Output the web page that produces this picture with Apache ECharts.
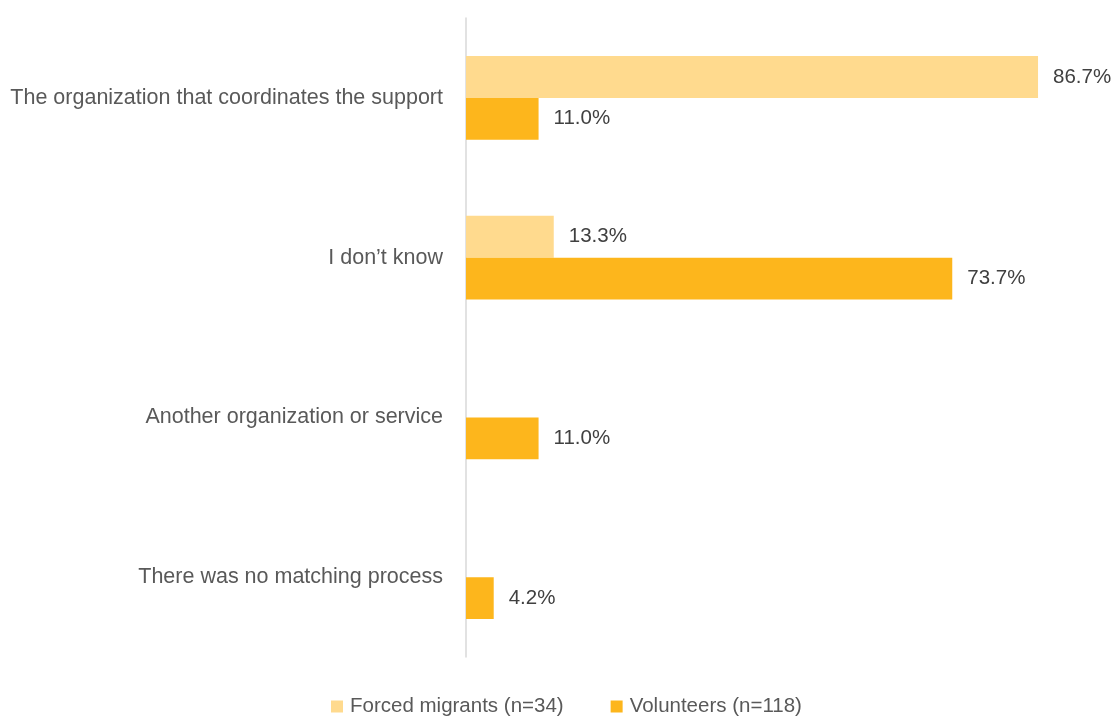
<!DOCTYPE html>
<html>
<head>
<meta charset="utf-8">
<script src="https://cdn.jsdelivr.net/npm/echarts@6/dist/echarts.min.js"></script>
<style>html,body{margin:0;padding:0;background:#fff;}#c{width:1117px;height:718px;}</style>
</head>
<body>
<div id="c"></div>
<script>
var categories = ["The organization that coordinates the support", "I don’t know", "Another organization or service", "There was no matching process"];
var forcedMigrants = [86.7, 13.3, null, null];
var volunteers = [11.0, 73.7, 11.0, 4.2];
var seriesNames = ["Forced migrants (n=34)", "Volunteers (n=118)"];

var chart = echarts.init(document.getElementById('c'));
var font = "Liberation Sans";
function lbl() {
  return {show: true, position: 'right', distance: 15, color: '#404040', fontSize: 20.5, fontFamily: font,
    formatter: function (p) { return p.value == null ? '' : p.value.toFixed(1) + '%'; }};
}
chart.setOption({
  animation: false,
  grid: {left: 466, top: 18, bottom: 61, right: 57.2, containLabel: false},
  legend: {
    top: 691, left: 326, itemWidth: 12, itemHeight: 12, itemGap: 47,
    icon: 'rect',
    textStyle: {color: '#595959', fontSize: 20.5, fontFamily: font, padding: [0, 0, 0, 2]},
    data: seriesNames
  },
  xAxis: {type: 'value', min: 0, max: 90, show: false},
  yAxis: {
    type: 'category', data: categories, inverse: true,
    axisLine: {show: true, lineStyle: {color: '#d9d9d9', width: 1.5}},
    axisTick: {show: false},
    axisLabel: {color: '#595959', fontSize: 21.5, fontFamily: font, margin: 23}
  },
  series: [
    {name: seriesNames[0], type: 'bar', data: forcedMigrants, itemStyle: {color: '#FFDA8E'},
     barGap: '0%', barCategoryGap: '47.5%', label: lbl()},
    {name: seriesNames[1], type: 'bar', data: volunteers, itemStyle: {color: '#FDB61C'},
     barGap: '0%', barCategoryGap: '47.5%', label: lbl()}
  ]
});
</script>
</body>
</html>
